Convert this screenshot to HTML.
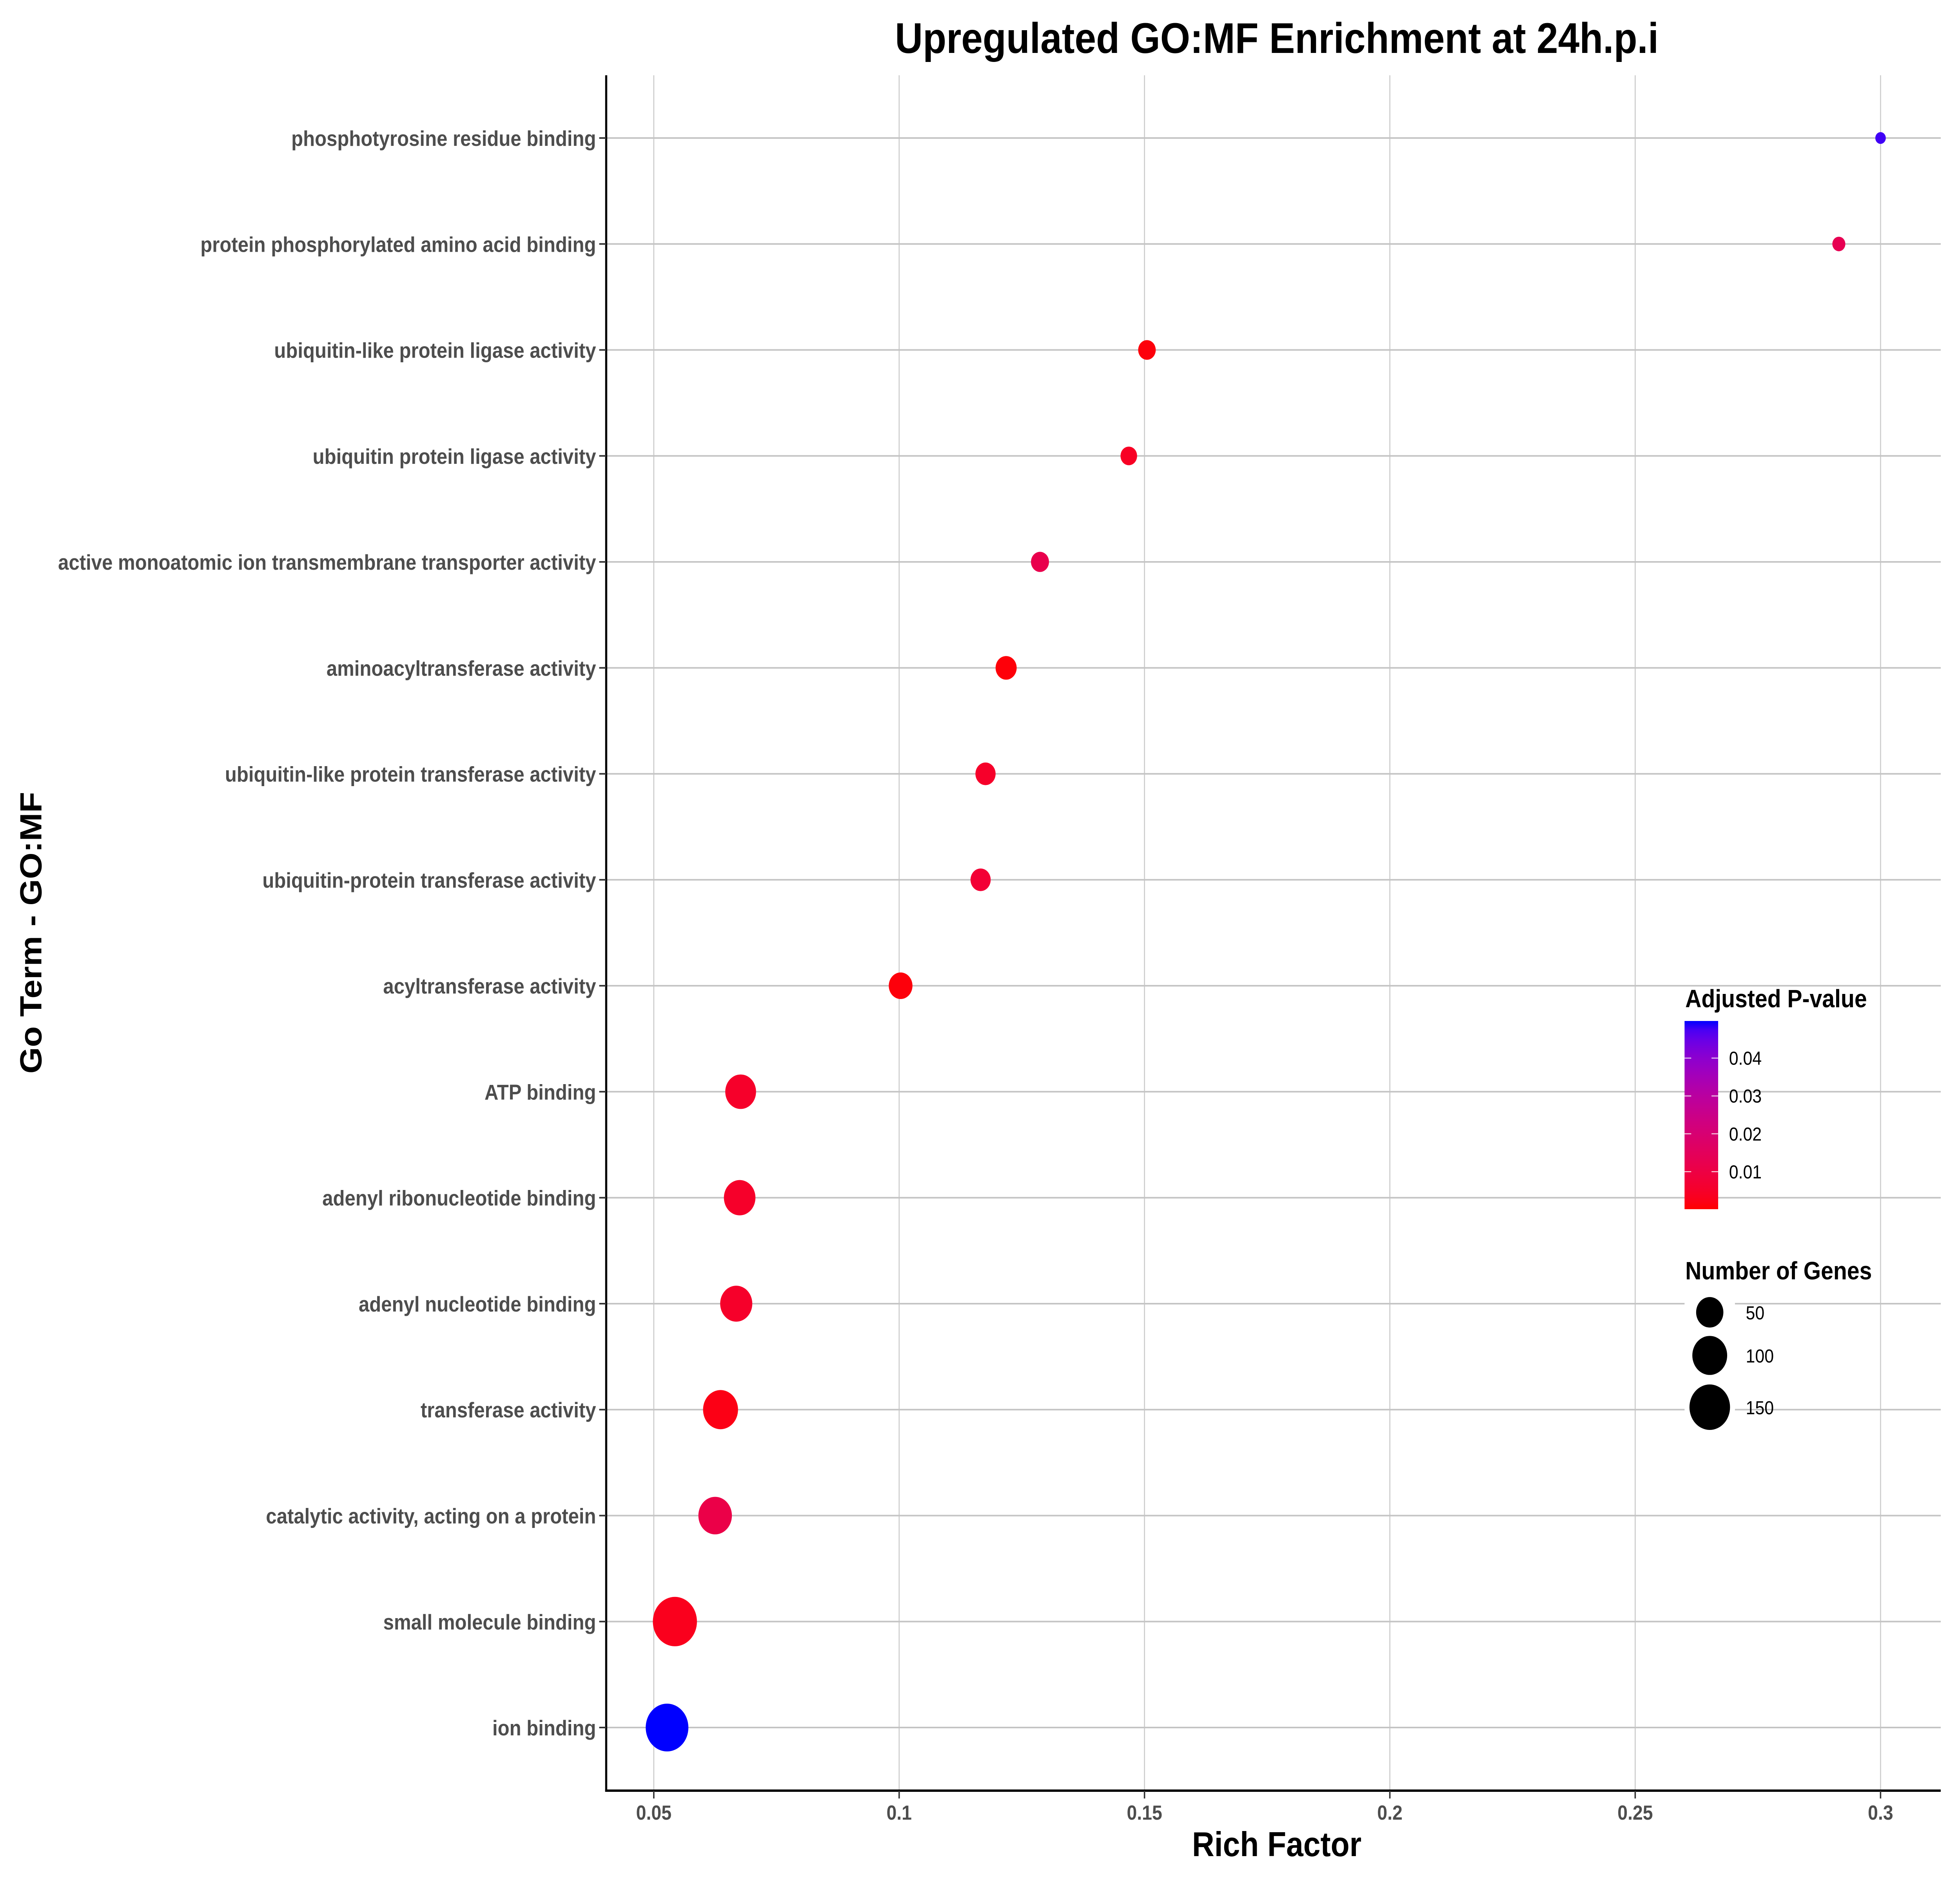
<!DOCTYPE html>
<html><head><meta charset="utf-8">
<style>
html,body{margin:0;padding:0;background:#fff;overflow:hidden;width:100%;height:100%;}
svg{display:block;position:absolute;left:0;top:0;width:100vw;height:100vh;}
text{font-family:"Liberation Sans",Arial,sans-serif;}
</style></head>
<body>
<svg id="chart" xmlns="http://www.w3.org/2000/svg" viewBox="0 0 5600 4800" preserveAspectRatio="none">
<rect x="0" y="0" width="5600" height="4800" fill="#fff"/>
<defs>
<linearGradient id="pgrad" x1="0" y1="1" x2="0" y2="0"></linearGradient>
</defs>
<g id="grid"></g>
<g id="points"></g>
<g id="axes"></g>
<g id="legend"></g>
<text x="3648" y="135" text-anchor="middle" font-size="110" font-weight="bold" fill="#000">Upregulated GO:MF Enrichment at 24h.p.i</text>
<text x="3648" y="4734" text-anchor="middle" font-size="88" font-weight="bold" fill="#000">Rich Factor</text>
<text x="118" y="2379" text-anchor="middle" font-size="87" font-weight="bold" fill="#000" transform="rotate(-90 118 2379)">Go Term - GO:MF</text>
</svg>
<script>
const terms = ["phosphotyrosine residue binding","protein phosphorylated amino acid binding","ubiquitin-like protein ligase activity","ubiquitin protein ligase activity","active monoatomic ion transmembrane transporter activity","aminoacyltransferase activity","ubiquitin-like protein transferase activity","ubiquitin-protein transferase activity","acyltransferase activity","ATP binding","adenyl ribonucleotide binding","adenyl nucleotide binding","transferase activity","catalytic activity, acting on a protein","small molecule binding","ion binding"];
const richFactor = [0.300,0.2915,0.1505,0.1468,0.1287,0.1218,0.1176,0.1166,0.1003,0.0677,0.0675,0.0668,0.0636,0.0625,0.0543,0.0527];
const geneCount = [5,6,13,11,14,23,20,20,33,71,76,80,101,90,186,171];
const padj = [0.048,0.013,0.001,0.004,0.012,0.0008,0.005,0.007,0.001,0.005,0.005,0.005,0.002,0.011,0.003,0.0498];
const xTicks = [0.05,0.1,0.15,0.2,0.25,0.3];
const xTickLabels = ["0.05","0.1","0.15","0.2","0.25","0.3"];
const pTicks = [0.01,0.02,0.03,0.04];
const pTickLabels = ["0.01","0.02","0.03","0.04"];
const sizeBreaks = [50,100,150];
const sizeLabels = ["50","100","150"];

const NS="http://www.w3.org/2000/svg";
function mk(tag, attrs, parent){const e=document.createElementNS(NS,tag);for(const k in attrs)e.setAttribute(k,attrs[k]);parent.appendChild(e);return e;}

const PL=1732, PR=5545, PT=192, PB=4567;
const xScale = v => 1868 + (v-0.05)*14020;
const yScale = i => 352 + i*270.27;
const nMin = Math.min(...geneCount);
const rScale = n => 15 + Math.sqrt(Math.max(0,(n-nMin))*12.73);
const pMin = 0.0001, pMax = Math.max(...padj);

function srgb2lin(c){c/=255;return c<=0.04045?c/12.92:Math.pow((c+0.055)/1.055,2.4);}
function lin2srgb(c){c=c<=0.0031308?12.92*c:1.055*Math.pow(c,1/2.4)-0.055;return Math.round(Math.max(0,Math.min(1,c))*255);}
function rgb2lab(r,g,b){r=srgb2lin(r);g=srgb2lin(g);b=srgb2lin(b);
 let X=(0.4124*r+0.3576*g+0.1805*b)/0.95047,Y=(0.2126*r+0.7152*g+0.0722*b),Z=(0.0193*r+0.1192*g+0.9505*b)/1.08883;
 const f=t=>t>0.008856?Math.cbrt(t):7.787*t+16/116;
 X=f(X);Y=f(Y);Z=f(Z);return [116*Y-16,500*(X-Y),200*(Y-Z)];}
function lab2rgb(L,a,b){let Y=(L+16)/116,X=a/500+Y,Z=Y-b/200;
 const fi=t=>t*t*t>0.008856?t*t*t:(t-16/116)/7.787;
 X=fi(X)*0.95047;Y=fi(Y);Z=fi(Z)*1.08883;
 const r=3.2406*X-1.5372*Y-0.4986*Z,g=-0.9689*X+1.8758*Y+0.0415*Z,bb=0.0557*X-0.2040*Y+1.0570*Z;
 return "rgb("+lin2srgb(r)+","+lin2srgb(g)+","+lin2srgb(bb)+")";}
const labLo=rgb2lab(255,0,0), labHi=rgb2lab(0,0,255);
function colorAt(t){t=Math.max(0,Math.min(1,t));return lab2rgb(labLo[0]+(labHi[0]-labLo[0])*t,labLo[1]+(labHi[1]-labLo[1])*t,labLo[2]+(labHi[2]-labLo[2])*t);}
const pColor = p => colorAt((p-pMin)/(pMax-pMin));

const grid=document.getElementById('grid'), pts=document.getElementById('points'), axes=document.getElementById('axes'), leg=document.getElementById('legend');

xTicks.forEach((v,i)=>{
 const l=mk('line',{x1:xScale(v),x2:xScale(v),y1:PT,y2:PB,stroke:'#cccccc','stroke-width':3},grid);
 
 
});
terms.forEach((t,i)=>{
 const l=mk('line',{x1:PL,x2:PR,y1:yScale(i),y2:yScale(i),stroke:'#c4c4c4','stroke-width':4},grid);
 
 
});

terms.forEach((t,i)=>{
 const c=mk('circle',{cx:xScale(richFactor[i]),cy:yScale(i),r:rScale(geneCount[i]),fill:pColor(padj[i])},pts);
 
 
});

const ax=mk('line',{x1:PL,x2:PL,y1:PT,y2:PB+3,stroke:'#000','stroke-width':6},axes);


const bx=mk('line',{x1:PL-3,x2:PR,y1:PB,y2:PB,stroke:'#000','stroke-width':6},axes);


xTicks.forEach((v,i)=>{
 const tk=mk('line',{x1:xScale(v),x2:xScale(v),y1:PB,y2:PB+20,stroke:'#333','stroke-width':4},axes);
 
 
 const tx=mk('text',{x:xScale(v),y:4641,'text-anchor':'middle','font-size':52,'font-weight':'bold',fill:'#4d4d4d'},axes);
 tx.textContent=xTickLabels[i];
 
 
});
terms.forEach((t,i)=>{
 const tk=mk('line',{x1:PL-20,x2:PL,y1:yScale(i),y2:yScale(i),stroke:'#333','stroke-width':4},axes);
 
 
 const tx=mk('text',{x:1703,y:yScale(i)+20,'text-anchor':'end','font-size':55,'font-weight':'bold',fill:'#4d4d4d'},axes);
 tx.textContent=t;
 
 
});

const grad=document.getElementById('pgrad');
for(let k=0;k<=20;k++){mk('stop',{offset:(k/20),'stop-color':colorAt(k/20)},grad);}
const CBT=2604, CBB=3084, CBL=4813, CBR=4909;
const cbY = p => CBB - (p-pMin)/(pMax-pMin)*(CBB-CBT);
const lt=mk('text',{x:4815,y:2569,'font-size':64,'font-weight':'bold',fill:'#000'},leg);
lt.textContent='Adjusted P-value';


const bar=mk('rect',{x:CBL,y:CBT,width:CBR-CBL,height:CBB-CBT,fill:'url(#pgrad)'},leg);


pTicks.forEach((p,i)=>{
 const y=cbY(p);
 const a=mk('line',{x1:CBL,x2:CBL+19,y1:y,y2:y,stroke:'#fff','stroke-width':2},leg);
 
 
 const b=mk('line',{x1:CBR-19,x2:CBR,y1:y,y2:y,stroke:'#fff','stroke-width':2},leg);
 
 
 const tx=mk('text',{x:4940,y:y+17,'font-size':48,fill:'#000'},leg);
 tx.textContent=pTickLabels[i];
 
 
});

const st=mk('text',{x:4815,y:3263,'font-size':64,'font-weight':'bold',fill:'#000'},leg);
st.textContent='Number of Genes';


const keyY=[3347,3457,3589];
const bg=mk('rect',{x:4813,y:3290,width:144,height:370,fill:'#fff'},leg);


sizeBreaks.forEach((n,i)=>{
 const c=mk('circle',{cx:4885,cy:keyY[i],r:rScale(n),fill:'#000'},leg);
 
 
 const tx=mk('text',{x:4988,y:keyY[i]+18,'font-size':48,fill:'#000'},leg);
 tx.textContent=sizeLabels[i];
 
 
});
</script>
</body></html>
